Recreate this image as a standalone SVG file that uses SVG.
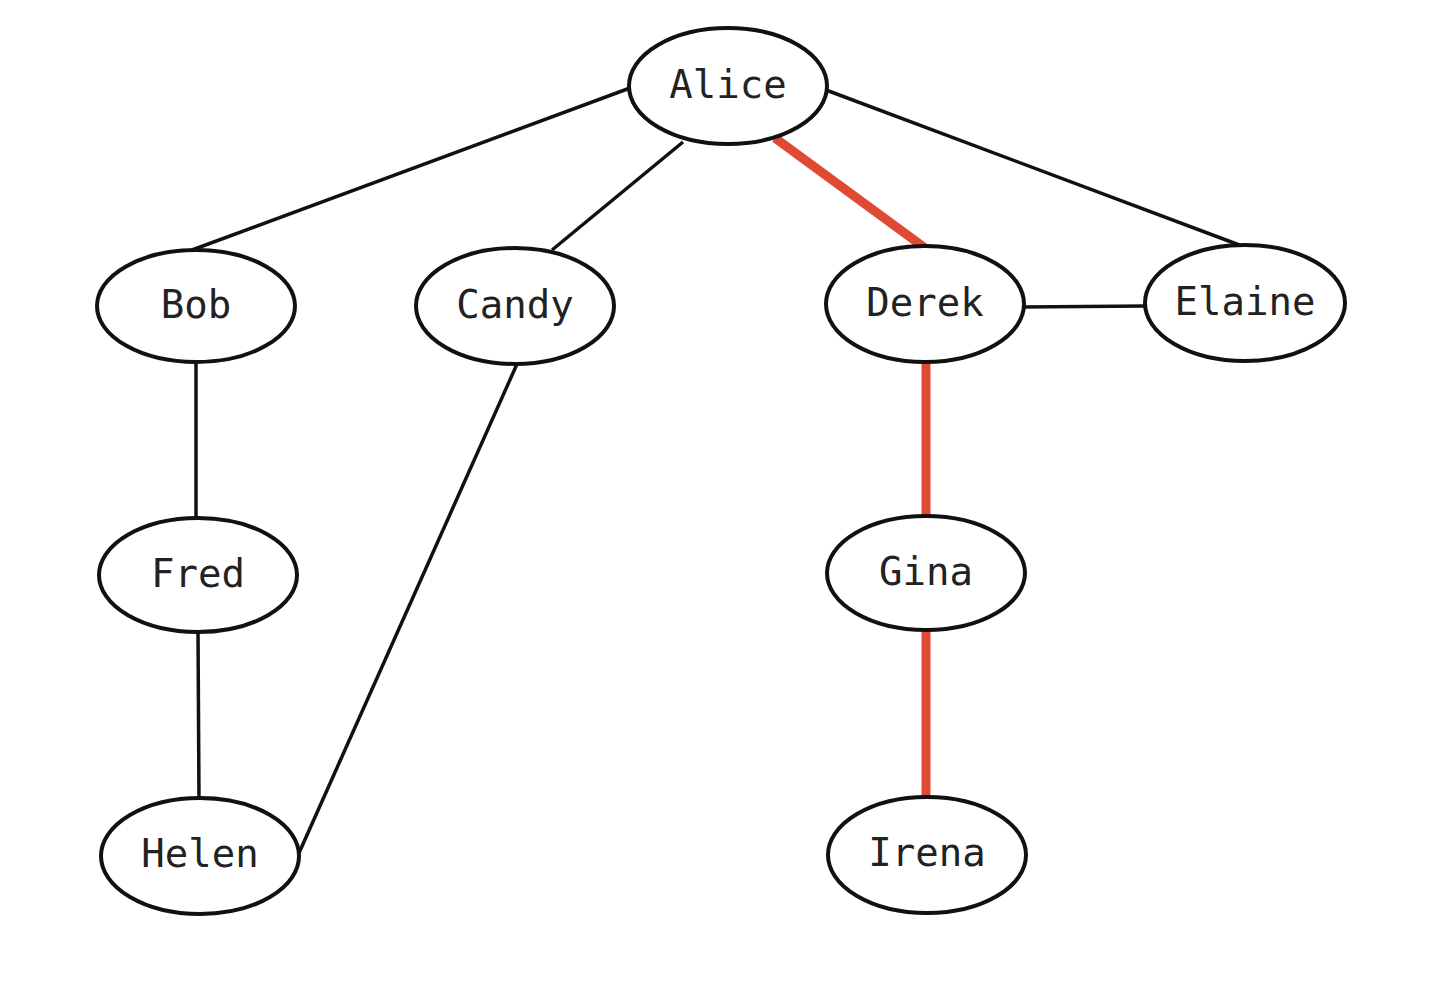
<svg xmlns="http://www.w3.org/2000/svg" width="1440" height="989" viewBox="0 0 1440 989">
<style>
.n ellipse{fill:#fff;stroke:#111;stroke-width:4}
.n text{font-family:"DejaVu Sans Mono","Liberation Mono",monospace;font-size:39px;fill:#222;text-anchor:middle;dominant-baseline:central}
.e line{stroke:#111;stroke-width:3.5}
.e line.r{stroke:#e04a35;stroke-width:9}
</style>
<rect width="1440" height="989" fill="#fff"/>
<g class="e" id="edges">
<line x1="630" y1="88" x2="192" y2="250"/>
<line x1="683" y1="142" x2="552" y2="250"/>
<line class="r" x1="775" y1="138" x2="925" y2="248"/>
<line x1="826" y1="90" x2="1242" y2="246"/>
<line x1="1022" y1="307" x2="1146" y2="306"/>
<line x1="196" y1="360" x2="196" y2="520"/>
<line x1="517" y1="364" x2="299" y2="853"/>
<line class="r" x1="926" y1="362" x2="926" y2="518"/>
<line x1="198" y1="630" x2="199" y2="800"/>
<line class="r" x1="926" y1="628" x2="926" y2="800"/>
</g>
<g class="n" id="alice"><ellipse cx="728" cy="86" rx="99" ry="58"/><text x="728" y="84">Alice</text></g>
<g class="n" id="bob"><ellipse cx="196" cy="306" rx="99" ry="56"/><text x="196" y="304">Bob</text></g>
<g class="n" id="candy"><ellipse cx="515" cy="306" rx="99" ry="58"/><text x="515" y="304">Candy</text></g>
<g class="n" id="derek"><ellipse cx="925" cy="304" rx="99" ry="58"/><text x="925" y="302">Derek</text></g>
<g class="n" id="elaine"><ellipse cx="1245" cy="303" rx="100" ry="58"/><text x="1245" y="301">Elaine</text></g>
<g class="n" id="fred"><ellipse cx="198" cy="575" rx="99" ry="57"/><text x="198" y="573">Fred</text></g>
<g class="n" id="gina"><ellipse cx="926" cy="573" rx="99" ry="57"/><text x="926" y="571">Gina</text></g>
<g class="n" id="helen"><ellipse cx="200" cy="856" rx="99" ry="58"/><text x="200" y="853">Helen</text></g>
<g class="n" id="irena"><ellipse cx="927" cy="855" rx="99" ry="58"/><text x="927" y="852">Irena</text></g>
</svg>
